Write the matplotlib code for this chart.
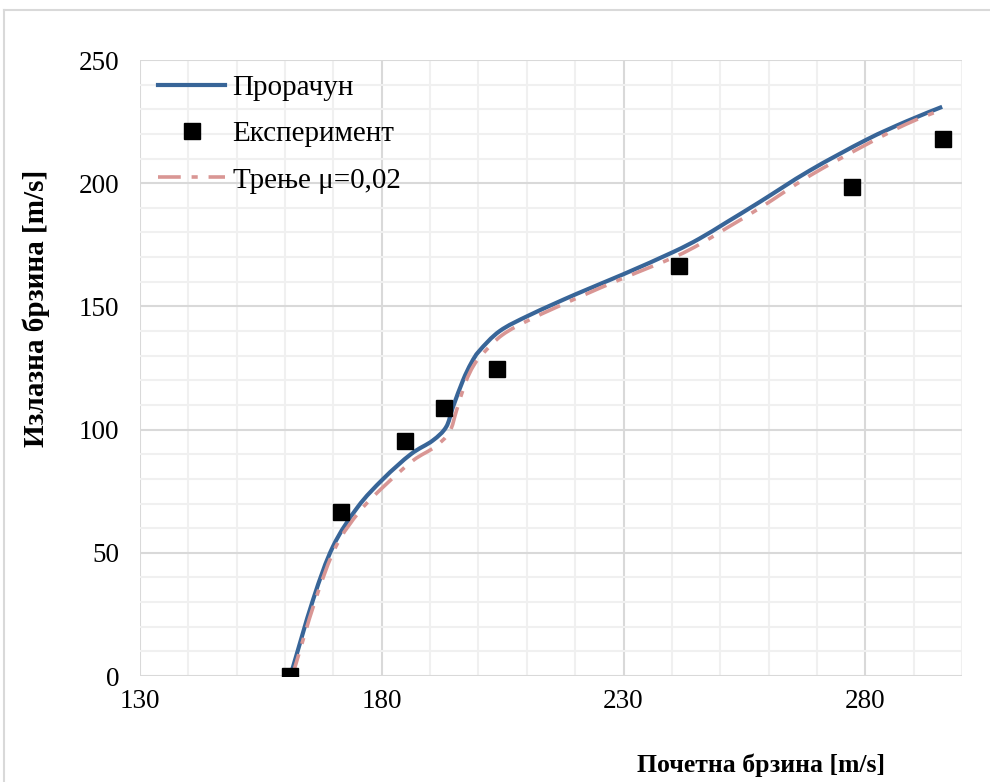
import numpy as np
import matplotlib
matplotlib.use('agg')
from matplotlib import pyplot as plt
from matplotlib.ticker import MultipleLocator
from matplotlib.lines import Line2D
from matplotlib.path import Path
from matplotlib.patches import PathPatch

# computed curve
calc_x = [161.1, 165.8, 169.9, 175.0, 180.3, 186.0, 190.5, 193.3, 194.7, 196.8,
          198.5, 200.2, 204.4, 210.6, 220.2, 229.9, 240.2, 245.7, 251.2, 258.1,
          268.4, 280.1, 288.4, 295.9]
calc_y = [0, 31, 52.5, 68.5, 80, 90, 95.5, 101, 109, 120,
          127, 132, 140, 146.5, 155, 163, 172, 177.5, 184, 192.3,
          205, 217.5, 225, 231]

# friction mu=0.02
fric_x = [161.5, 166.3, 170.5, 175.5, 181.0, 186.5, 191.0, 194.0, 195.5, 197.3,
          199.0, 201.0, 205.0, 211.0, 220.5, 230.0, 240.5, 246.0, 251.5, 258.5,
          268.5, 280.5, 288.5, 296.0]
fric_y = [0, 31, 52.5, 67, 78, 87.5, 93, 99, 108, 119,
          126, 131, 138.5, 145, 153.5, 161.5, 170, 175.5, 182, 190.3,
          203, 216, 224, 230]

# experiment
exp_x = [161.0, 171.5, 184.8, 192.8, 203.8, 241.4, 277.2, 296.0]
exp_y = [0, 66.6, 95.4, 108.8, 124.6, 166.4, 198.3, 217.8]

labels = ['Прорачун', 'Експеримент', 'Трење μ=0,02']


def smooth_path(xs, ys):
    # excel-like smoothed line: catmull-rom segments as cubic beziers
    p = np.column_stack([xs, ys]).astype(float)
    n = len(p)
    verts = [p[0]]
    codes = [Path.MOVETO]
    for i in range(n - 1):
        p0 = p[i - 1] if i > 0 else p[i]
        p3 = p[i + 2] if i + 2 < n else p[i + 1]
        c1 = p[i] + (p[i + 1] - p0) / 6.0
        c2 = p[i + 1] - (p3 - p[i]) / 6.0
        verts += [c1, c2, p[i + 1]]
        codes += [Path.CURVE4] * 3
    return Path(verts, codes)


font = {
    'family' : 'serif',
    'serif'  : ['Liberation Serif', 'DejaVu Serif'],
    'size'   : 19.5
}
matplotlib.rc('font', **font)

fig = plt.figure(figsize=(9.9, 7.82), dpi=100)
ax = fig.add_axes([140/990, 1-676/782, (962-140)/990, (676-60)/782])

blue = '#386598'
pink = '#D99694'
dash = (6.3, 3, 1.7, 3)

ax.add_patch(PathPatch(smooth_path(calc_x, calc_y), fill=False, edgecolor=blue,
                       lw=3.0, capstyle='butt', zorder=3))
ax.add_patch(PathPatch(smooth_path(fric_x, fric_y), fill=False, edgecolor=pink,
                       lw=2.6, linestyle=(0, dash), capstyle='butt', zorder=4))
ax.plot(exp_x, exp_y, 's', color='black', ms=12, zorder=5)

ax.set_xlim(130, 300)
ax.set_ylim(0, 250)
ax.xaxis.set_major_locator(MultipleLocator(50, offset=30))
ax.xaxis.set_minor_locator(MultipleLocator(10))
ax.yaxis.set_major_locator(MultipleLocator(50))
ax.yaxis.set_minor_locator(MultipleLocator(10))
ax.grid(which='minor', color='#F0F0F0', lw=1.5, zorder=0)
ax.grid(which='major', color='#D9D9D9', lw=1.5, zorder=1)
ax.set_axisbelow(True)
for s in ax.spines.values():
    s.set_visible(False)
ax.tick_params(which='both', length=0)
ax.tick_params(axis='x', pad=9)
ax.tick_params(axis='y', pad=15)

h_calc = Line2D([], [], color=blue, lw=3.0)
h_exp = Line2D([], [], marker='s', ls='none', color='black', ms=12)
h_fric = Line2D([], [], color=pink, lw=2.6, dash_capstyle='butt')
h_fric.set_dashes(dash)
ax.legend([h_calc, h_exp, h_fric], labels, loc='upper left', frameon=False,
          fontsize=21, handlelength=2.3, handletextpad=0.25, labelspacing=0.68,
          borderaxespad=0.0, bbox_to_anchor=(0.008, 0.995))

fig.text(761/990, 1-765/782, 'Почетна брзина [m/s]', ha='center', va='center',
         fontsize=18.5, fontweight='bold')
fig.text(36/990, 1-308/782, 'Излазна брзина [m/s]', ha='center', va='center',
         rotation=90, fontsize=21, fontweight='bold')

# outer chart border
fig.add_artist(Line2D([4/990, 4/990], [0, 1-10/782], color='#D9D9D9', lw=1.5,
                      transform=fig.transFigure))
fig.add_artist(Line2D([4/990, 1], [1-10/782, 1-10/782], color='#D9D9D9', lw=1.5,
                      transform=fig.transFigure))

plt.savefig('out.png', format='png', dpi=100)
plt.close()
